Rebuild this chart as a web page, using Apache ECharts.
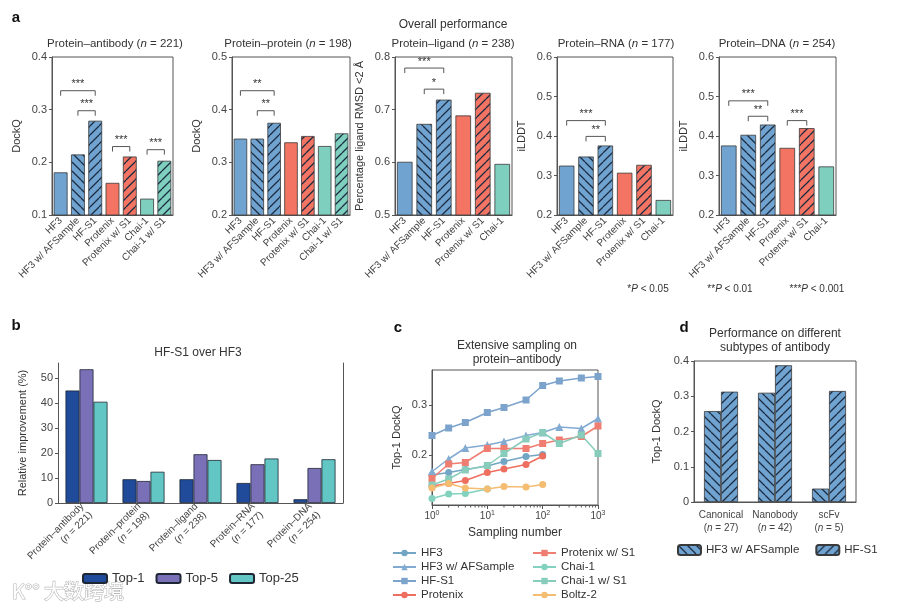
<!DOCTYPE html>
<html>
<head>
<meta charset="utf-8">
<script src="https://cdn.jsdelivr.net/npm/echarts@6/dist/echarts.min.js"></script>
<style>
html, body { margin: 0; padding: 0; background: #fff; }
#chart { width: 900px; height: 610px; }
</style>
</head>
<body>
<div id="chart"></div>
<script>
// ---- panel a: overall performance ----
const aCategories = ['HF3', 'HF3 w/ AFSample', 'HF-S1', 'Protenix', 'Protenix w/ S1', 'Chai-1', 'Chai-1 w/ S1'];
const antibodyValues = [0.181, 0.215, 0.279, 0.161, 0.211, 0.131, 0.203];
const proteinValues = [0.345, 0.345, 0.375, 0.338, 0.350, 0.331, 0.355];
const ligandValues = [0.601, 0.673, 0.719, 0.689, 0.732, 0.597];
const rnaValues = [0.325, 0.348, 0.376, 0.307, 0.327, 0.238];
const dnaValues = [0.376, 0.403, 0.429, 0.370, 0.420, 0.323];
// significance brackets: [from index, to index, height]
const antibodyBrackets = [[0, 2, 0.336], [1, 2, 0.298], [3, 4, 0.230], [5, 6, 0.224]];
const antibodyStars = ['***', '***', '***', '***'];
const proteinBrackets = [[0, 2, 0.436], [1, 2, 0.398]];
const proteinStars = ['**', '**'];
const ligandBrackets = [[0, 2, 0.779], [1, 2, 0.739]];
const ligandStars = ['***', '*'];
const rnaBrackets = [[0, 2, 0.439], [1, 2, 0.399]];
const rnaStars = ['***', '**'];
const dnaBrackets = [[0, 2, 0.489], [1, 2, 0.450], [3, 4, 0.439]];
const dnaStars = ['***', '**', '***'];

// ---- panel b: HF-S1 over HF3 ----
const bCategories = ['Protein–antibody\n(n = 221)', 'Protein–protein\n(n = 198)', 'Protein–ligand\n(n = 238)', 'Protein–RNA\n(n = 177)', 'Protein–DNA\n(n = 254)'];
const top1 = [45.0, 9.5, 9.5, 8.0, 1.5];
const top5 = [53.5, 8.8, 19.5, 15.5, 14.0];
const top25 = [40.5, 12.5, 17.2, 17.8, 17.5];

// ---- panel c: extensive sampling ----
const samplingNumbers = [1, 2, 4, 10, 20, 50, 100, 200, 500, 1000];
const hf3Line = [0.160, 0.165, 0.171, 0.178, 0.187, 0.197, 0.201];
const hf3AfLine = [0.167, 0.192, 0.214, 0.220, 0.227, 0.239, 0.245, 0.256, 0.253, 0.273];
const hfS1Line = [0.239, 0.254, 0.265, 0.285, 0.295, 0.310, 0.339, 0.348, 0.354, 0.357];
const protenixLine = [0.138, 0.143, 0.149, 0.165, 0.172, 0.181, 0.198];
const protenixS1Line = [0.153, 0.182, 0.185, 0.213, 0.213, 0.213, 0.223, 0.230, 0.237, 0.258];
const chaiLine = [0.113, 0.122, 0.123, 0.132];
const chaiS1Line = [0.140, 0.152, 0.170, 0.179, 0.203, 0.232, 0.245, 0.223, 0.240, 0.203];
const boltzLine = [0.134, 0.143, 0.134, 0.132, 0.137, 0.136, 0.141];
const minorTickValues = [2, 3, 4, 5, 6, 7, 8, 9, 20, 30, 40, 50, 60, 70, 80, 90, 200, 300, 400, 500, 600, 700, 800, 900];

// ---- panel d: antibody subtypes ----
const dCategories = ['Canonical\n(n = 27)', 'Nanobody\n(n = 42)', 'scFv\n(n = 5)'];
const dAfSample = [0.258, 0.310, 0.038];
const dHfS1 = [0.313, 0.388, 0.315];

const FONT = 'Liberation Sans';
const BLUE = '#70a3cf';
const RED = '#f37462';
const TEAL = '#7fcfbf';
const HATCH = '#1b2c42';

// hatch fill: '/' or '\' lines over a base colour
function hatch(bg, dir) {
    const s = 9;
    const c = document.createElement('canvas');
    c.width = s; c.height = s;
    const ctx = c.getContext('2d');
    ctx.fillStyle = bg;
    ctx.fillRect(0, 0, s, s);
    ctx.strokeStyle = HATCH;
    ctx.lineWidth = 1.3;
    ctx.beginPath();
    [-s, 0, s].forEach(x0 => {
        if (dir === '/') { ctx.moveTo(x0, s); ctx.lineTo(x0 + s, 0); }
        else { ctx.moveTo(x0, 0); ctx.lineTo(x0 + s, s); }
    });
    ctx.stroke();
    return { image: c, repeat: 'repeat' };
}

const catColors = [
    BLUE, hatch(BLUE, '\\'), hatch(BLUE, '/'),
    RED, hatch(RED, '/'),
    TEAL, hatch(TEAL, '/')
];

const subplots = [
    { title: 'Protein–antibody ({i|n} = 221)', yName: 'DockQ', min: 0.1, max: 0.4, values: antibodyValues, brackets: antibodyBrackets, stars: antibodyStars, left: 52, width: 121, cx: 115 },
    { title: 'Protein–protein ({i|n} = 198)', yName: 'DockQ', min: 0.2, max: 0.5, values: proteinValues, brackets: proteinBrackets, stars: proteinStars, left: 232, width: 118, cx: 288 },
    { title: 'Protein–ligand ({i|n} = 238)', yName: 'Percentage ligand RMSD <2 Å', min: 0.5, max: 0.8, values: ligandValues, brackets: ligandBrackets, stars: ligandStars, left: 395, width: 117, cx: 453 },
    { title: 'Protein–RNA ({i|n} = 177)', yName: 'iLDDT', min: 0.2, max: 0.6, values: rnaValues, brackets: rnaBrackets, stars: rnaStars, left: 557, width: 116, cx: 616 },
    { title: 'Protein–DNA ({i|n} = 254)', yName: 'iLDDT', min: 0.2, max: 0.6, values: dnaValues, brackets: dnaBrackets, stars: dnaStars, left: 719, width: 117, cx: 777 }
];

const grids = [], xAxes = [], yAxes = [], series = [], graphics = [];

function txt(text, x, y, size, extra) {
    return {
        type: 'text', x: x, y: y, silent: true,
        style: Object.assign({
            text: text, fontFamily: FONT, fontSize: size, fill: '#333', align: 'center', verticalAlign: 'middle',
            rich: { i: { fontStyle: 'italic', fontFamily: FONT, fontSize: size, fill: '#333' } }
        }, extra || {})
    };
}

function bracketRenderer(stars) {
    return function (params, api) {
        const p1 = api.coord([api.value(0), api.value(2)]);
        const p2 = api.coord([api.value(1), api.value(2)]);
        const y = p1[1];
        return {
            type: 'group',
            children: [
                { type: 'polyline', shape: { points: [[p1[0], y + 5], [p1[0], y], [p2[0], y], [p2[0], y + 5]] }, style: { stroke: '#444', fill: null, lineWidth: 0.9 } },
                { type: 'text', style: { text: stars[params.dataIndex], x: (p1[0] + p2[0]) / 2, y: y - 1, align: 'center', verticalAlign: 'bottom', fontSize: 11, fontFamily: FONT, fill: '#333' } }
            ]
        };
    };
}

const axisColor = '#555';
const labelColor = '#444';

subplots.forEach((s, k) => {
    grids.push({ left: s.left, top: 57, width: s.width, height: 158, show: true, borderColor: axisColor, borderWidth: 1 });
    xAxes.push({
        type: 'category', gridIndex: k, data: aCategories.slice(0, s.values.length),
        axisLine: { lineStyle: { color: axisColor } },
        axisTick: { alignWithLabel: true, length: 3, lineStyle: { color: axisColor } },
        axisLabel: { rotate: 45, interval: 0, fontSize: 10, fontFamily: FONT, color: labelColor, margin: 4 }
    });
    yAxes.push({
        type: 'value', gridIndex: k, min: s.min, max: s.max, interval: 0.1,
        name: s.yName, nameLocation: 'middle', nameGap: 30,
        nameTextStyle: { fontSize: 11, fontFamily: FONT, color: '#333' },
        splitLine: { show: false },
        axisLine: { show: true, lineStyle: { color: axisColor } },
        axisTick: { show: true, length: 3, lineStyle: { color: axisColor } },
        axisLabel: { fontSize: 11, fontFamily: FONT, color: labelColor, margin: 5, formatter: v => v.toFixed(1) }
    });
    series.push({
        type: 'bar', name: 'a' + k, xAxisIndex: k, yAxisIndex: k, barCategoryGap: '20%',
        data: s.values.map((v, i) => ({ value: v, itemStyle: { color: catColors[i], borderColor: '#3a3a3a', borderWidth: 0.8 } }))
    });
    series.push({
        type: 'custom', name: 'br' + k, xAxisIndex: k, yAxisIndex: k,
        encode: { x: [0, 1], y: 2 }, data: s.brackets, renderItem: bracketRenderer(s.stars), z: 5
    });
    graphics.push(txt(s.title, s.cx, 44, 11.5));
});

// panel b (grid 5)
grids.push({ left: 58, top: 363, width: 285, height: 140 });
xAxes.push({
    type: 'category', gridIndex: 5, data: bCategories,
    axisLine: { lineStyle: { color: axisColor } },
    axisTick: { show: false },
    axisLabel: {
        rotate: 45, interval: 0, fontSize: 10, fontFamily: FONT, color: labelColor, margin: 6, lineHeight: 12,
        formatter: v => v.replace('n =', '{i|n} ='),
        rich: { i: { fontStyle: 'italic', fontSize: 10, fontFamily: FONT, color: labelColor } }
    }
});
yAxes.push({
    type: 'value', gridIndex: 5, min: 0, max: 56, interval: 10,
    name: 'Relative improvement (%)', nameLocation: 'middle', nameGap: 30,
    nameTextStyle: { fontSize: 11, fontFamily: FONT, color: '#333' },
    splitLine: { show: false },
    axisLine: { show: true, lineStyle: { color: axisColor } },
    axisTick: { show: true, length: 3, lineStyle: { color: axisColor } },
    axisLabel: { fontSize: 11, fontFamily: FONT, color: labelColor, margin: 5, showMaxLabel: false }
});
yAxes.push({
    type: 'value', gridIndex: 5, min: 0, max: 56, position: 'right',
    splitLine: { show: false }, axisTick: { show: false }, axisLabel: { show: false },
    axisLine: { show: true, lineStyle: { color: axisColor } }
});
const bYIndex = yAxes.length - 2;
[['Top-1', top1, '#1f4b9a'], ['Top-5', top5, '#7a70b8'], ['Top-25', top25, '#62c7c4']].forEach(([name, vals, color]) => {
    series.push({
        type: 'bar', name: name, xAxisIndex: 5, yAxisIndex: bYIndex, barWidth: 14, barGap: '0%',
        itemStyle: { color: color, borderColor: '#1e2633', borderWidth: 0.8 }, data: vals
    });
});
graphics.push(txt('HF-S1 over HF3', 198, 353, 12));

// panel c (grid 6)
grids.push({ left: 432, top: 370, width: 166, height: 135, show: true, borderColor: axisColor, borderWidth: 1 });
xAxes.push({
    type: 'log', gridIndex: 6, logBase: 10, min: 1, max: 1000,
    name: 'Sampling number', nameLocation: 'middle', nameGap: 22,
    nameTextStyle: { fontSize: 12, fontFamily: FONT, color: '#333' },
    splitLine: { show: false },
    axisLine: { lineStyle: { color: axisColor } },
    axisTick: { length: 4, lineStyle: { color: axisColor } },
    axisLabel: {
        fontSize: 10, fontFamily: FONT, color: labelColor, margin: 5,
        formatter: v => '10{s|' + Math.round(Math.log10(v)) + '}',
        rich: { s: { fontSize: 7, fontFamily: FONT, color: labelColor, verticalAlign: 'top', padding: [0, 0, 5, 0] } }
    }
});
yAxes.push({
    type: 'value', gridIndex: 6, min: 0.1, max: 0.37, interval: 0.1,
    name: 'Top-1 DockQ', nameLocation: 'middle', nameGap: 30,
    nameTextStyle: { fontSize: 11, fontFamily: FONT, color: '#333' },
    splitLine: { show: false },
    axisLine: { show: true, lineStyle: { color: axisColor } },
    axisTick: { show: true, length: 3, lineStyle: { color: axisColor } },
    axisLabel: { fontSize: 11, fontFamily: FONT, color: labelColor, margin: 5, showMinLabel: false, showMaxLabel: false, formatter: v => v.toFixed(1) }
});
const cYIndex = yAxes.length - 1;
const lineDefs = [
    ['HF3', hf3Line, '#72a6c4', 'circle'],
    ['HF3 w/ AFSample', hf3AfLine, '#83abd2', 'triangle'],
    ['HF-S1', hfS1Line, '#7ba3cb', 'rect'],
    ['Protenix', protenixLine, '#ee6e60', 'circle'],
    ['Protenix w/ S1', protenixS1Line, '#ef7d71', 'rect'],
    ['Chai-1', chaiLine, '#82d2bf', 'circle'],
    ['Chai-1 w/ S1', chaiS1Line, '#88cdbc', 'rect'],
    ['Boltz-2', boltzLine, '#f5bd72', 'circle']
];
lineDefs.forEach(([name, vals, color, sym]) => {
    series.push({
        type: 'line', name: name, xAxisIndex: 6, yAxisIndex: cYIndex,
        symbol: sym, symbolSize: sym === 'triangle' ? 8 : 7, showAllSymbol: true,
        lineStyle: { color: color, width: 1.5 }, itemStyle: { color: color },
        data: vals.map((v, i) => [samplingNumbers[i], v])
    });
});
series.push({
    type: 'custom', name: 'minor', xAxisIndex: 6, yAxisIndex: cYIndex, silent: true,
    encode: { x: 0 }, data: minorTickValues.map(v => [v]),
    renderItem: (params, api) => {
        const p = api.coord([api.value(0), 0.1]);
        return { type: 'line', shape: { x1: p[0], y1: p[1], x2: p[0], y2: p[1] + 2.5 }, style: { stroke: axisColor, lineWidth: 1 } };
    }
});
graphics.push(txt('Extensive sampling on', 517, 346, 12));
graphics.push(txt('protein–antibody', 517, 360, 12));

// panel d (grid 7)
grids.push({ left: 694, top: 361, width: 162, height: 141, show: true, borderColor: axisColor, borderWidth: 1 });
xAxes.push({
    type: 'category', gridIndex: 7, data: dCategories,
    axisLine: { lineStyle: { color: axisColor } },
    axisTick: { show: false },
    axisLabel: {
        interval: 0, fontSize: 10, fontFamily: FONT, color: labelColor, margin: 7, lineHeight: 13,
        formatter: v => v.replace('n =', '{i|n} ='),
        rich: { i: { fontStyle: 'italic', fontSize: 10, fontFamily: FONT, color: labelColor } }
    }
});
yAxes.push({
    type: 'value', gridIndex: 7, min: 0, max: 0.4, interval: 0.1,
    name: 'Top-1 DockQ', nameLocation: 'middle', nameGap: 32,
    nameTextStyle: { fontSize: 11, fontFamily: FONT, color: '#333' },
    splitLine: { show: false },
    axisLine: { show: true, lineStyle: { color: axisColor } },
    axisTick: { show: true, length: 3, lineStyle: { color: axisColor } },
    axisLabel: { fontSize: 11, fontFamily: FONT, color: labelColor, margin: 5, formatter: v => v === 0 ? '0' : v.toFixed(1) }
});
const dYIndex = yAxes.length - 1;
[['HF3 w/ AFSample ', dAfSample, catColors[1]], ['HF-S1 ', dHfS1, catColors[2]]].forEach(([name, vals, fill]) => {
    series.push({
        type: 'bar', name: name, xAxisIndex: 7, yAxisIndex: dYIndex, barWidth: 17, barGap: '0%',
        itemStyle: { color: fill, borderColor: '#3a3a3a', borderWidth: 0.8 }, data: vals
    });
});
graphics.push(txt('Performance on different', 775, 334, 12));
graphics.push(txt('subtypes of antibody', 775, 348, 12));

// shared texts
graphics.push(txt('Overall performance', 453, 25, 12));
graphics.push(txt('a', 16, 18, 15, { fontWeight: 'bold', fill: '#111' }));
graphics.push(txt('b', 16, 326, 15, { fontWeight: 'bold', fill: '#111' }));
graphics.push(txt('c', 398, 328, 15, { fontWeight: 'bold', fill: '#111' }));
graphics.push(txt('d', 684, 328, 15, { fontWeight: 'bold', fill: '#111' }));
graphics.push(txt('*{i|P} < 0.05', 648, 289, 10));
graphics.push(txt('**{i|P} < 0.01', 730, 289, 10));
graphics.push(txt('***{i|P} < 0.001', 817, 289, 10));
graphics.push(txt('K°° 大数跨境', 68, 591, 20, { fontFamily: 'Noto Sans CJK SC', fill: '#fff', stroke: '#b8b8b8', lineWidth: 1.2 }));

const legendText = { fontSize: 11.5, fontFamily: FONT, color: '#333' };
const option = {
    backgroundColor: '#fff',
    animation: false,
    grid: grids,
    xAxis: xAxes,
    yAxis: yAxes,
    legend: [
        { data: ['HF3', 'HF3 w/ AFSample', 'HF-S1', 'Protenix'], left: 392, top: 547, height: 80, orient: 'vertical', itemGap: 2, itemWidth: 23, itemHeight: 8, padding: 0, textStyle: legendText },
        { data: ['Protenix w/ S1', 'Chai-1', 'Chai-1 w/ S1', 'Boltz-2'], left: 532, top: 547, height: 80, orient: 'vertical', itemGap: 2, itemWidth: 23, itemHeight: 8, padding: 0, textStyle: legendText },
        { data: ['Top-1', 'Top-5', 'Top-25'], left: 82, top: 572, width: 300, padding: 0, itemGap: 11, itemWidth: 24, itemHeight: 9, textStyle: { fontSize: 13, fontFamily: FONT, color: '#333' } },
        { data: ['HF3 w/ AFSample ', 'HF-S1 '], left: 677, top: 544, width: 230, padding: 0, itemGap: 16, itemWidth: 23, itemHeight: 10, formatter: n => n.trim(), textStyle: { fontSize: 11.5, fontFamily: FONT, color: '#333' } }
    ],
    graphic: graphics,
    series: series
};

const chart = echarts.init(document.getElementById('chart'));
chart.setOption(option);
</script>
</body>
</html>
